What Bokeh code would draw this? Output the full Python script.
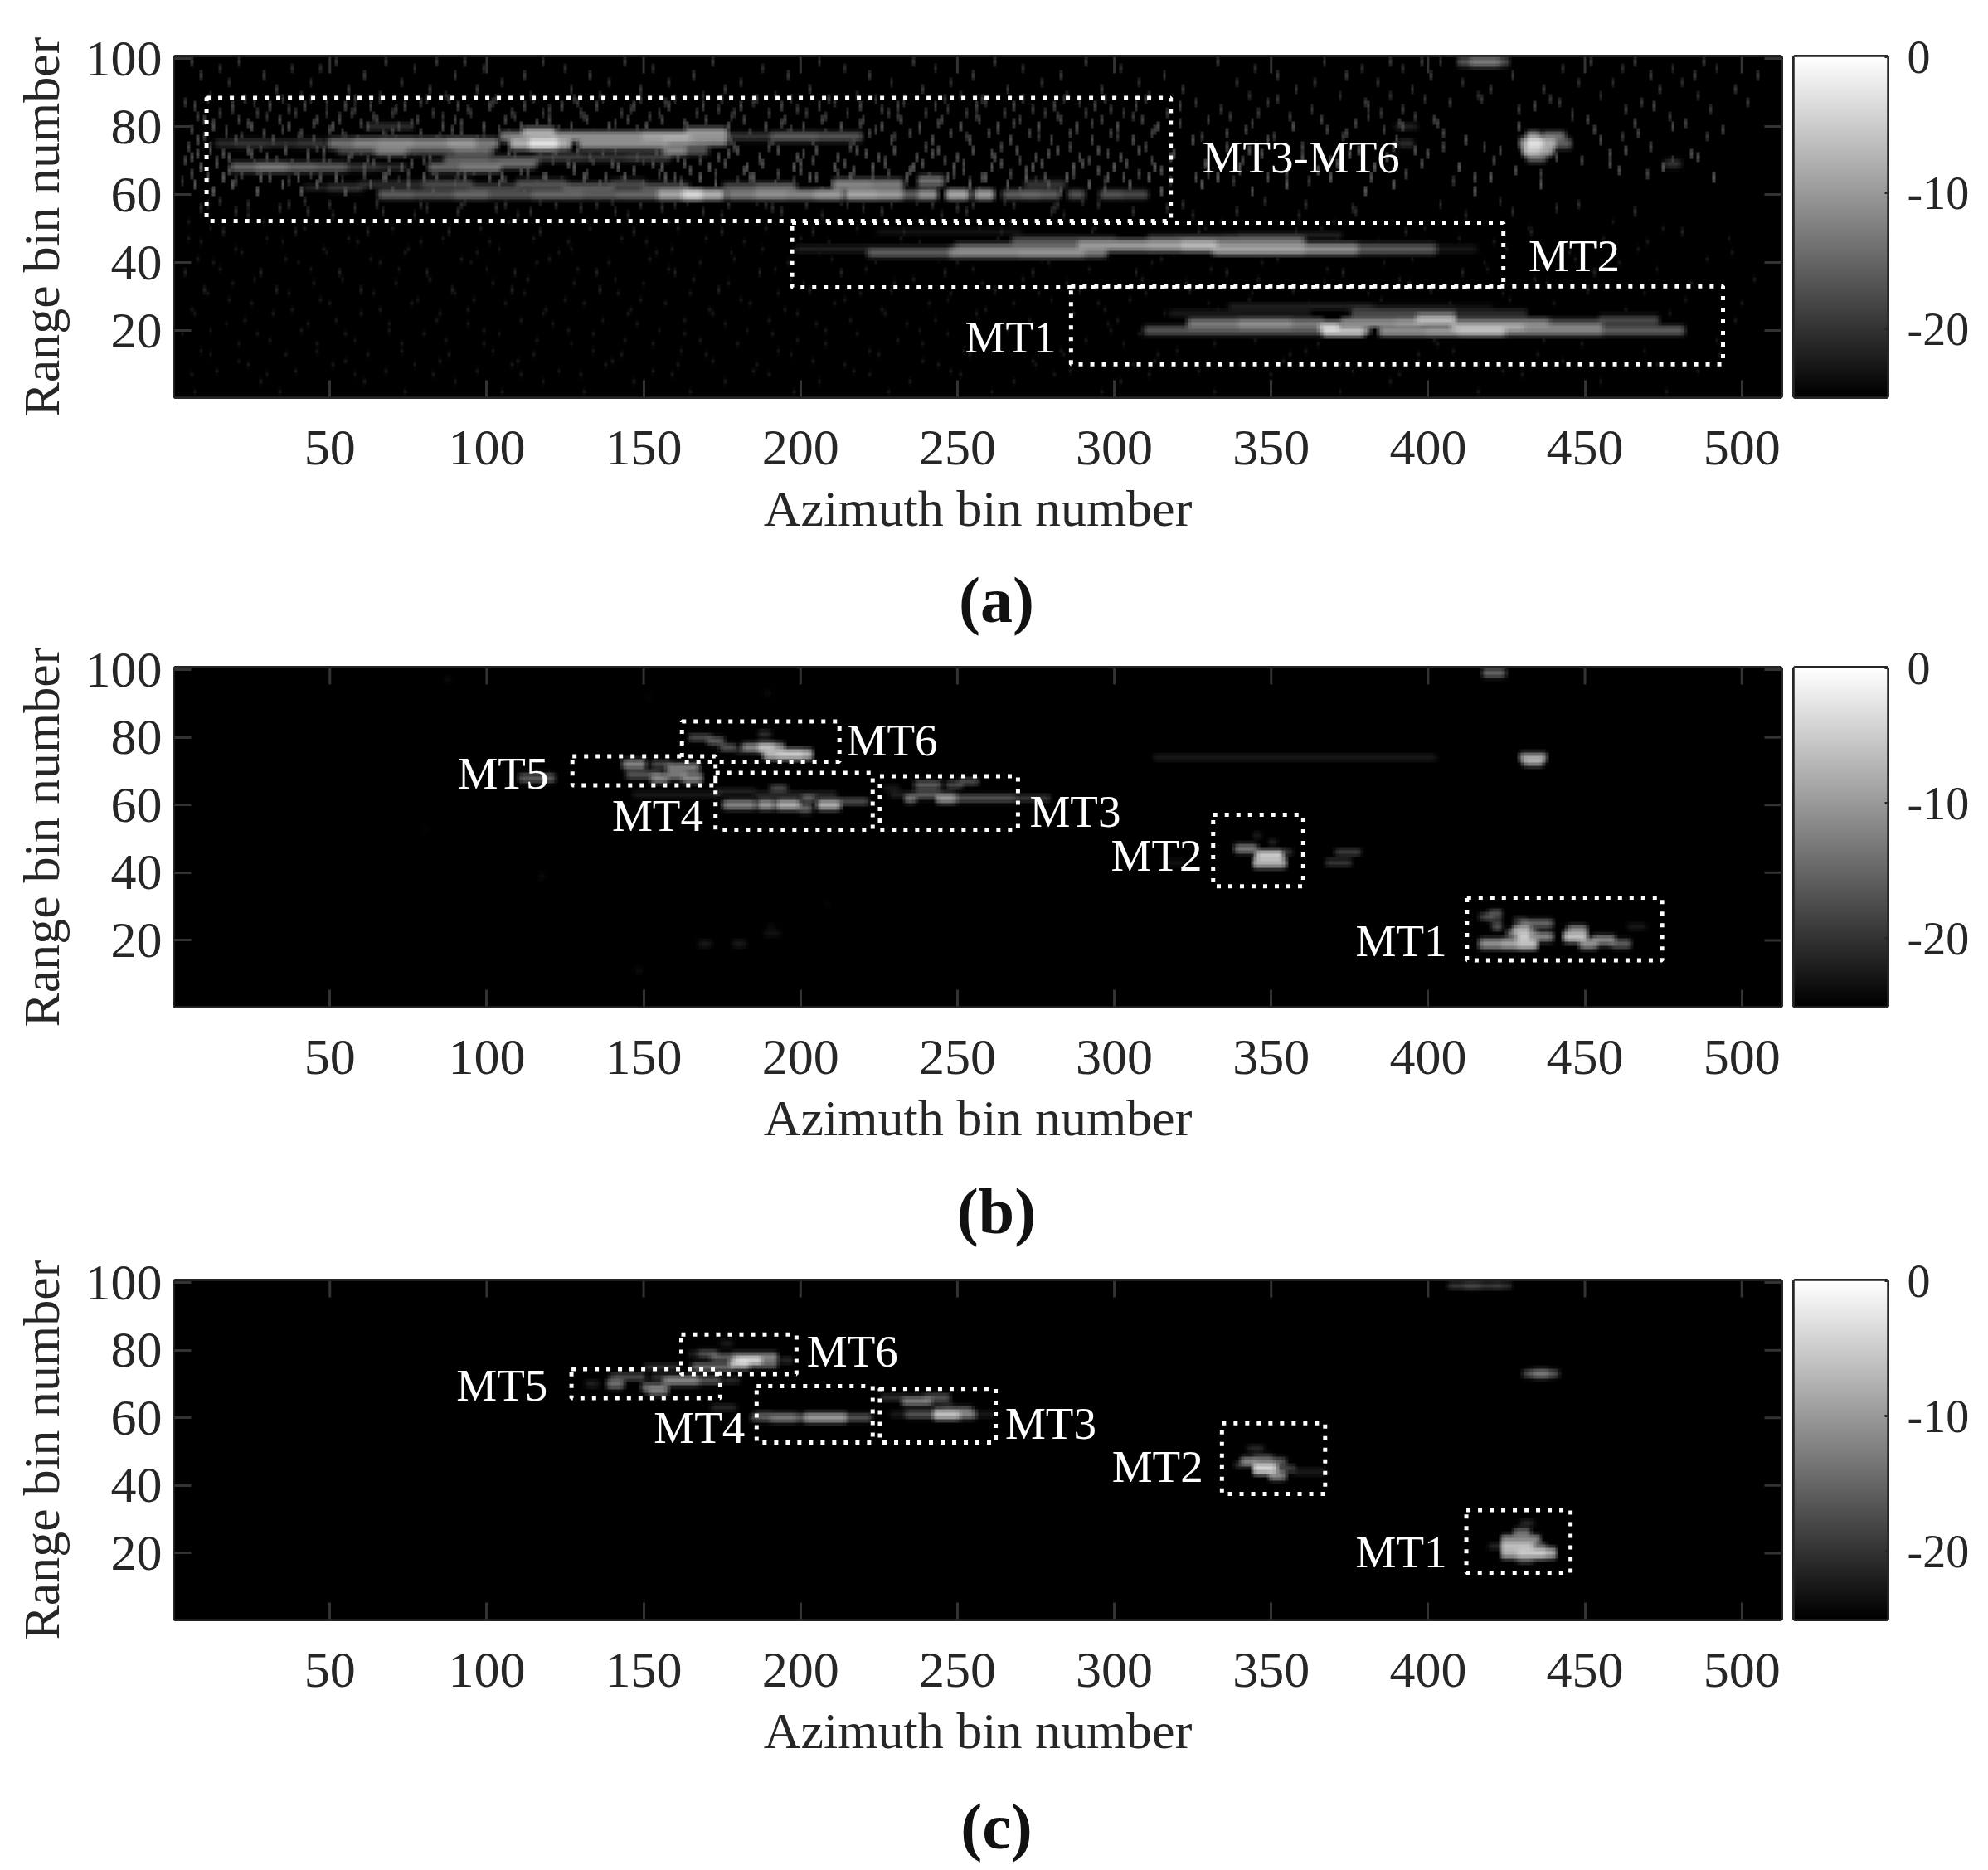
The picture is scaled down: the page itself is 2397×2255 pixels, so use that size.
import numpy as np
from bokeh.embed import file_html
from bokeh.resources import INLINE
from bokeh.layouts import column, row
from bokeh.models import ColumnDataSource, FixedTicker, LinearColorMapper, Range1d
from bokeh.palettes import gray
from bokeh.plotting import figure
from bokeh.core.properties import value

# ---- axes ----
x_ticks = [50, 100, 150, 200, 250, 300, 350, 400, 450, 500]
y_ticks = [20, 40, 60, 80, 100]
cb_ticks = [-20, -10, 0]
cb_tick_text = {-20: "-20", -10: "-10", 0: "0"}
x_title = "Azimuth bin number"
y_title = "Range bin number"
captions = ["(a)", "(b)", "(c)"]
db_floor, db_top = -25, 0

# ---- panel (a): streaks (az from, az to, range bin, dB) ----
a_mt36 = [
    (14,20,75,-19),(20,30,75,-18),(30,40,75,-19),(40,48,75,-18),(50,58,75,-12),(58,66,75,-10),(66,76,75,-9),
    (76,88,75,-10),(88,96,75,-8),(96,103,75,-11),(108,114,75,-6),(114,122,75,-1),(122,126,75,-6),(130,145,75,-9),
    (145,157,75,-9),(157,166,76,-8),(166,176,76,-9),
    (105,112,77,-11),(112,121,78,-6),(121,135,77,-9),(135,150,77,-9),(150,164,77,-7),(164,176,78,-8),
    (176,191,77,-18),(191,205,77,-14),(205,219,77,-15),
    (53,64,73,-17),(65,74,73,-11),(74,90,73,-16),(90,101,73,-13),(157,163,73,-10),(163,170,73,-15),
    (19,27,68,-13),(27,36,68,-11),(36,45,68,-13),(45,55,68,-14),(55,65,68,-18),(65,74,68,-19),
    (82,92,68,-13),(92,104,68,-11),(104,115,69,-13),(87,100,70,-14),(100,116,70,-15),(116,130,71,-17),
    (130,145,71,-18),(145,158,71,-17),(62,76,80,-19),
    (66,76,60,-14),(76,90,60,-15),(90,100,60,-13),(100,115,60,-15),(115,130,60,-13),(130,142,60,-14),
    (142,155,60,-13),(155,163,60,-7),(163,168,60,-2),(168,175,60,-6),(177,185,60,-11),(186,195,60,-9),
    (196,204,60,-10),(205,213,60,-8),(215,224,60,-7),(225,232,60,-8),(233,237,60,-14),(238,243,60,-9),
    (247,253,60,-7),(256,261,60,-8),(265,270,60,-14),(271,276,60,-13),(277,282,60,-14),(286,290,60,-15),
    (296,302,60,-15),(303,310,60,-16),
    (42,50,62,-20),(50,60,62,-18),(60,80,63,-19),(80,95,63,-16),(95,110,62,-17),(110,125,63,-15),
    (125,140,62,-14),(140,150,63,-16),(150,164,62,-15),(176,186,62,-15),(186,198,62,-13),(211,222,63,-10),
    (222,232,63,-11),(238,245,64,-12),(272,284,63,-18),
]
a_mt2 = [
    (199,222,44,-20),(222,248,43,-14),(248,270,43,-10),(270,290,43,-9),(290,297,43,-12),
    (250,289,44,-12),(289,311,45,-8),(311,322,45,-7),(322,332,45,-5),(332,360,44,-7),(360,377,44,-9),
    (377,402,44,-14),(402,415,44,-21),(268,300,46,-15),(320,360,46,-12),(311,334,47,-18),(335,360,47,-17),
    (225,270,49,-22),(340,372,48,-20),
]
a_mt1 = [
    (310,324,20,-21),(310,340,20,-15),(340,366,20,-15),(324,340,22,-11),(340,356,22,-9),(356,366,22,-11),
    (367,379,20,-3),(366,381,21,-4),(385,400,20,-8),(400,410,20,-7),(410,424,20,-5),(424,440,20,-11),
    (440,455,20,-11),(455,468,20,-14),(468,481,20,-14),(373,390,22,-8),(390,397,22,-7),(397,408,23,-5),
    (408,424,22,-10),(424,438,22,-10),(438,455,22,-15),(455,473,23,-16),(407,430,21,-7),(430,455,21,-12),
    (376,408,25,-16),(408,431,25,-19),(318,362,25,-21),(337,382,27,-20),(382,420,27,-23),
]
a_others = [
    (410,414,99,-15),(414,422,99,-11),(422,425,99,-15),
    (430,432,75,-8),(432,436,75,-1),(436,440,75,-6),(440,445,75,-14),(431,435,73,-4),(435,439,73,-7),
    (432,435,77,-9),(437,443,77,-12),(432,437,71,-13),(391,395,75,-19),(390,396,80,-20),(476,480,69,-18),
]
a_carve = [(385,407,21),(372,384,21)]

# ---- panel (a): faint speckle, one row of azimuth positions per range bin ----
a_noise_rg = [99, 97, 95, 93, 91, 89, 87, 85, 83, 81, 79, 77, 74, 72, 70, 67, 66, 65, 64, 58, 56, 54,
              50, 47, 44, 41, 38, 35, 32, 29, 26, 23, 20, 17, 14, 11, 8, 5, 2,
              88, 86, 84, 82, 80, 78, 76, 73, 71, 69, 68, 65, 63, 61, 57, 55,
              52, 49, 46, 43, 40, 37, 34, 31, 28, 25, 22, 19, 16, 13, 10, 7, 4]
a_noise_db = [-20, -21, -20, -21, -20, -21, -20, -20, -20, -19, -19, -20, -19, -18, -19, -18, -19, -18, -20, -21, -21, -22,
              -23, -23, -23, -23, -23, -23, -22, -23, -23, -23, -23, -23, -23, -23, -23, -23, -23,
              -20, -19, -20, -19, -18, -19, -18, -18, -18, -18, -17, -17, -17, -17, -21, -21,
              -23, -22, -23, -23, -23, -22, -23, -23, -23, -23, -23, -23, -23, -23, -23, -23, -23]
a_noise_az = [
    [6,21,52,68,84,93,118,144,172,206,236,262,291,333,367,388,398,404,452,466,488],
    [15,38,47,77,99,125,153,188,214,243,271,302,345,379,392,443,462,478,492],
    [9,29,61,90,112,133,166,196,222,255,283,316,352,374,401,427,471,485,505],
    [18,44,73,105,139,158,181,229,248,277,308,339,364,384,411,448,459,481],
    [33,56,82,97,127,149,176,203,239,266,296,322,358,395,420,437,474,498],
    [12,41,66,87,114,136,169,192,218,251,285,311,343,372,388,416,455,486],
    [4,26,49,79,102,129,157,185,211,233,259,289,326,349,380,407,442,468,502],
    [19,37,58,71,94,120,146,174,199,226,247,274,299,334,363,392,429,463,490],
    [8,30,53,64,86,109,131,152,178,208,231,256,282,306,337,356,381,396,446,477],
    [13,24,45,60,76,92,116,141,163,194,219,244,268,293,321,344,377,391,403,466,482],
    [6,17,35,50,70,89,104,123,148,171,197,224,238,263,288,313,342,368,386,453,494],
    [10,22,40,55,68,85,99,119,142,183,209,230,253,276,301,328,351,373,462,489],
    [5,12,28,36,46,59,78,95,126,151,179,190,216,240,264,286,310,336,360,389,405,418,471],
    [8,16,25,43,57,74,88,107,122,137,154,177,201,221,242,261,279,298,319,347,375,400,458,484],
    [4,14,33,48,62,80,98,121,134,150,168,187,204,227,246,270,292,312,341,369,421,449,478],
    [18,27,39,52,69,83,96,111,128,147,165,182,200,217,235,252,272,295,315,340,365,428,461],
    [6,22,44,61,75,91,113,132,155,173,193,212,228,249,267,287,308,330,355,393,436,470],
    [11,31,47,67,84,101,118,138,160,184,205,223,241,258,278,303,326,349,382,415],
    [3,20,37,54,72,90,106,124,143,162,180,198,215,234,254,275,297,318,338,362,408],
    [15,42,65,93,117,140,164,186,213,237,265,290,348,423],
    [9,34,58,81,103,130,156,191,220,250,281,317,376,441],
    [24,51,77,110,145,175,207,245,284,325,359,412],
    [12,42,70,98,133,161,189,218,257,294,329,366,399,432,475],
    [5,30,56,86,115,143,170,200,232,263,300,335,371,410,456,496],
    [20,48,75,104,127,159,188,225,269,304,337,383,425,467],
    [8,36,63,92,120,152,179,210,244,277,315,352,395,447,489],
    [15,44,72,100,129,158,192,221,255,292,331,368,419,473],
    [26,54,82,113,141,166,197,236,271,309,346,391,434,504],
    [10,33,60,89,108,136,174,203,229,262,289,324,357,401,451],
    [18,47,78,96,125,149,181,214,247,280,305,343,385,426,482],
    [6,38,66,94,119,146,171,195,226,259,297,333,374,413,463],
    [23,52,84,111,137,163,190,216,243,273,301,339,378,444,498],
    [12,41,69,99,126,155,183,208,238,266,299,464,480],
    [31,58,87,116,144,168,199,231,260,291,345,402,437,492],
    [9,46,73,102,134,162,193,222,252,283,320,361,408,469],
    [21,55,85,110,140,172,204,239,274,313,354,397,443],
    [14,39,68,97,123,153,185,217,248,286,327,376,424,486],
    [28,61,90,118,147,176,206,235,268,302,350,388,455],
    [7,34,74,105,131,165,198,228,261,296,332,372,416,476],
    [11,23,35,44,58,66,81,88,103,115,128,137,149,160,175,186,197,209,224,233,246,258,271,284,297,310,352,399,417,439],
    [7,19,31,42,55,63,74,91,101,112,124,135,147,158,169,181,194,206,219,231,243,256,268,281,294,307,321,381,434,472],
    [15,27,39,49,57,70,83,95,108,118,130,143,155,167,179,190,202,215,228,240,253,265,278,291,303,317,346,385,446],
    [10,21,34,46,53,65,78,90,106,120,132,145,156,170,182,195,207,220,232,245,257,270,283,296,309,330,366,402,451],
    [13,25,37,51,62,72,86,99,111,127,139,151,164,177,189,201,213,226,238,251,263,276,288,301,314,357,392,429,478],
    [17,29,41,54,67,79,92,107,122,134,146,159,172,184,196,208,222,235,248,260,273,286,299,312,336,374,405,467],
    [8,20,32,45,59,71,84,97,110,125,138,152,165,178,191,204,217,229,242,254,267,280,293,306,325,349,390,412,455],
    [12,24,36,48,60,77,89,102,117,129,141,154,166,180,193,205,218,230,244,255,269,282,295,308,343,378,396,423,463],
    [6,18,30,43,56,69,82,94,109,121,133,148,161,174,187,199,212,225,237,250,262,275,289,302,318,360,387,441,486],
    [14,26,38,50,64,76,87,100,114,126,140,153,163,176,188,200,214,227,239,252,264,277,290,304,329,371,398,458],
    [9,22,33,47,61,73,85,98,113,128,142,156,171,183,198,211,223,236,249,261,274,287,300,313,340,383,410,475],
    [16,28,40,52,68,80,93,105,119,131,144,157,168,185,203,216,234,247,259,272,285,298,311,333,369,420,491],
    [7,19,35,46,63,75,90,104,116,136,150,162,173,192,210,221,241,254,266,279,292,305,328,355,389,436],
    [13,27,41,55,70,83,96,112,124,139,155,167,181,195,207,219,232,243,257,270,283,297,315,344,380,415],
    [11,24,37,50,65,79,92,106,122,135,149,160,177,189,202,215,229,242,255,268,282,295,322,361,404,448],
    [20,43,67,91,114,141,169,194,226,253,280,306,339,377,427,466],
    [5,29,57,83,107,132,158,186,212,240,267,298,334,370,409,459],
    [16,39,62,88,117,147,175,204,233,264,293,327,358,393,433,481],
    [9,35,59,79,101,126,151,182,209,238,272,302,341,384,421,470],
    [22,49,74,97,123,154,178,206,235,259,288,319,354,400,445,497],
    [13,40,66,95,116,139,168,196,224,250,279,312,347,386,418,461],
    [4,28,53,81,109,135,160,187,213,246,274,307,336,373,411,453],
    [19,45,71,102,128,150,177,201,230,258,285,323,367,394,438,484],
    [11,37,64,90,112,142,165,193,219,248,276,310,344,381,424,469],
    [25,50,76,106,131,157,184,211,241,268,295,330,362,407,440,500],
    [7,32,60,85,118,145,172,199,227,256,287,316,351,388,431,477],
    [17,43,69,94,121,148,176,205,234,265,298,338,375,414,457],
    [3,27,55,80,104,134,163,191,218,247,278,308,342,379,422,462],
    [21,46,73,99,127,153,180,208,239,270,303,332,365,403,449],
    [12,36,62,88,115,143,170,197,225,254,284,314,356,397,435,493],
    [24,51,77,108,138,161,186,214,244,275,306,340,372,416,473],
    [6,30,58,83,111,130,159,190,222,251,281,311,350,391,430],
]

# ---- panel (b): streaks ----
b_mt6 = [(165,171,80,-15),(171,175,79,-13),(175,179,77,-14),(182,187,77,-9),(187,191,77,-3),(191,194,77,-8),
         (189,203,75,-4),(193,200,75,-2),(187,190,81,-18),(180,183,76,-19)]
b_mt5 = [(144,150,72,-9),(153,158,72,-15),(158,167,71,-10),(145,155,69,-14),(153,157,68,-9),(158,163,69,-10),
         (163,168,68,-9),(111,121,68,-13),(147,174,63,-21),(173,185,64,-20),(186,211,63,-19)]
b_mt4 = [(176,185,60,-9),(187,191,60,-7),(193,199,60,-5),(200,203,59,-12),(201,204,62,-13),(206,212,60,-5),
         (211,221,61,-15),(191,195,65,-15)]
b_mt3 = [(227,231,65,-21),(237,244,66,-13),(247,251,66,-15),(251,256,67,-15),(229,235,63,-20),(234,236,62,-10),
         (237,244,63,-13),(244,249,62,-7),(249,268,62,-14),(268,279,62,-17)]
b_mt2 = [(346,353,45,-2),(339,345,47,-10),(345,354,43,-5),(345,346,51,-20),(350,351,49,-19),(352,356,46,-17),
         (371,378,46,-16),(368,375,43,-17),(316,322,43,-22)]
b_mt1 = [(420,423,28,-14),(417,420,27,-15),(420,423,26,-18),(428,431,26,-17),(430,434,25,-12),(435,439,25,-12),
         (421,423,24,-14),(426,434,22,-10),(428,432,23,-5),(429,432,21,-2),(417,423,19,-8),(424,429,19,-6),
         (429,434,19,-3),(434,439,21,-9),(445,450,23,-9),(444,450,21,-3),(449,453,19,-8),(453,459,20,-9),
         (459,464,19,-13),(464,469,24,-21)]
b_others = [(313,402,74,-21),(430,437,74,-8),(431,436,73,-6),(418,424,99,-12),(168,171,19,-21),(179,182,19,-21),
            (189,193,22,-22),(190,191,24,-23),(148,149,11,-23),(208,209,31,-24),(87,88,97,-23),(189,190,93,-23),
            (151,152,92,-24),(117,118,39,-23),(80,81,53,-24)]

# ---- panel (c): streaks ----
c_mt6 = [(168,173,79,-14),(172,179,78,-13),(179,192,78,-9),(180,187,77,-2),(178,183,76,-4),(183,192,76,-12),
         (166,178,75,-12),(151,161,75,-18),(194,197,77,-19),(175,178,82,-21),(165,167,79,-20)]
c_mt5 = [(140,150,72,-15),(157,167,71,-9),(168,174,71,-14),(153,157,72,-18),(176,180,71,-19),(132,135,70,-20),
         (139,143,70,-11),(150,157,69,-12),(152,157,68,-11),(172,179,63,-19)]
c_mt4 = [(185,191,60,-14),(191,198,60,-10),(198,202,60,-13),(202,214,60,-7),(214,222,60,-14),(186,190,61,-17)]
c_mt3 = [(226,232,66,-18),(233,241,65,-10),(240,247,66,-14),(236,248,64,-20),(229,234,61,-21),(234,243,61,-14),
         (243,250,61,-3),(250,255,61,-10),(246,254,62,-12),(255,262,61,-21)]
c_mt2 = [(345,351,45,-1),(341,345,47,-9),(345,350,48,-14),(350,354,43,-9),(352,357,45,-16),(343,347,51,-19),
         (339,344,46,-17),(345,354,47,-13),(357,367,44,-21)]
c_mt1 = [(428,432,26,-11),(424,435,24,-9),(424,433,22,-3),(433,437,22,-14),(424,440,20,-5),(429,437,20,-2),
         (429,433,18,-16),(430,433,29,-19),(420,424,22,-19)]
c_others = [(407,411,99,-17),(412,416,99,-15),(417,420,99,-17),(421,423,99,-16),(424,426,99,-18),
            (431,434,73,-14),(434,438,73,-10),(438,441,73,-14)]

# ---- dotted boxes: left, right, bottom, top ----
a_boxes = [(10.7,318,52.2,88.4),(197.3,424,32.7,51.7),(286.2,494,10.1,33)]
b_boxes = [(162.2,212.4,72.8,84.7),(127.3,172.9,65.8,74.4),(172.9,223,52.7,69.5),(225.3,269.3,52.7,68.5),
           (331.5,360.2,36,57.1),(412.4,474.6,14.1,32.6)]
c_boxes = [(162,198.7,72.9,84.6),(127,174.4,65.8,74.4),(186,223,52.7,69.4),(225.3,262.2,52.7,68.6),
           (334.3,367.2,37.5,58.4),(412.2,445.4,14.2,32.7)]

# ---- labels: text, az, range, align ----
a_labels = [("MT3-MT6",328,71,"left"),("MT2",432,42,"left"),("MT1",281.5,18,"right")]
b_labels = [("MT6",214.6,79.2,"left"),("MT5",119.7,69.4,"right"),("MT4",169,56.9,"right"),("MT3",273,58.2,"left"),
            ("MT2",328,45,"right"),("MT1",406,19.9,"right")]
c_labels = [("MT6",202,79.6,"left"),("MT5",119.4,69.5,"right"),("MT4",182.3,57,"right"),("MT3",265.2,58.3,"left"),
            ("MT2",328.3,45.6,"right"),("MT1",406,20.4,"right")]

FONT = "Liberation Serif"
INK = "#262626"
x_low, x_high, y_low, y_high = 0.5, 512.5, 0.5, 100.5
AZ_KERNEL = np.array([0.25, 0.5, 0.25])
FLOOR_AMP = 10.0 ** (db_floor / 20.0)


def paint(m, seg, halo):
    for az0, az1, rg, db in seg:
        i0, i1 = int(round(az0)) - 1, int(round(az1)) - 1
        r = int(round(rg)) - 1
        m[r, i0:i1 + 1] = np.maximum(m[r, i0:i1 + 1], db)
        for rr in (r - 1, r + 1):
            if 0 <= rr < 100:
                m[rr, i0:i1 + 1] = np.maximum(m[rr, i0:i1 + 1], db - halo)


def soften(m):
    # the reference is a resampled picture: soften edges on amplitude above the floor
    amp = 10.0 ** (m / 20.0) - FLOOR_AMP
    amp = np.apply_along_axis(lambda v: np.convolve(v, AZ_KERNEL, mode="same"), 1, amp)
    amp = np.apply_along_axis(lambda v: np.convolve(v, AZ_KERNEL, mode="same"), 0, amp)
    return np.clip(20.0 * np.log10(amp + FLOOR_AMP), db_floor, db_top)


def panel(groups, halo, noise=None, carve=()):
    m = np.full((100, 512), float(db_floor))
    for g in groups:
        paint(m, g, halo)
    for az0, az1, rg in carve:
        m[rg - 1, az0 - 1:az1] = db_floor
    m = soften(m)
    if noise:
        for rg, db, azs in zip(*noise):
            for az in azs:
                for k, drop in ((-1, 1.5), (0, 0), (1, 1.5)):
                    r = rg - 1 + k
                    if 0 <= r < 100:
                        m[r, az - 1] = max(m[r, az - 1], db - drop)
    return m


def main_fig(matrix, boxes, labels, height, top, bottom):
    p = figure(width=2155, height=height, output_backend="svg", toolbar_location=None,
               x_range=Range1d(x_low, x_high), y_range=Range1d(y_low, y_high),
               min_border_left=210, min_border_right=8, min_border_top=top, min_border_bottom=bottom)
    mapper = LinearColorMapper(palette=gray(256), low=db_floor, high=db_top)
    p.image(image=[matrix], x=x_low, y=y_low, dw=x_high - x_low, dh=y_high - y_low, color_mapper=mapper)
    p.grid.visible = False
    p.outline_line_color = INK
    p.outline_line_width = 5
    # mirrored ticks on the upper and right edges of the box
    p.segment(x_ticks, y_high, x_ticks, y_high - 4.9, line_color="#333333", line_width=3)
    p.segment(x_high, y_ticks, x_high - 5.3, y_ticks, line_color="#333333", line_width=3)
    for ax, ticks, title in ((p.xaxis, x_ticks, x_title), (p.yaxis, y_ticks, y_title)):
        ax.ticker = FixedTicker(ticks=ticks)
        ax.axis_line_color = None
        ax.major_tick_in = 20
        ax.major_tick_out = 0
        ax.major_tick_line_color = "#333333"
        ax.major_tick_line_width = 3
        ax.minor_tick_line_color = None
        ax.major_label_text_font = FONT
        ax.major_label_text_font_size = "62px"
        ax.major_label_text_color = INK
        ax.axis_label = title
        ax.axis_label_text_font = FONT
        ax.axis_label_text_font_size = "62px"
        ax.axis_label_text_font_style = "normal"
        ax.axis_label_text_color = INK
    p.xaxis.major_label_standoff = 41
    p.xaxis.axis_label_standoff = 16
    p.yaxis.major_label_standoff = 15
    p.yaxis.axis_label_standoff = 16
    p.yaxis.major_label_orientation = "horizontal"
    src = ColumnDataSource(dict(left=[b[0] for b in boxes], right=[b[1] for b in boxes],
                                bottom=[b[2] for b in boxes], top=[b[3] for b in boxes]))
    p.quad(left="left", right="right", bottom="bottom", top="top", source=src, fill_color=None,
           line_color="white", line_width=5, line_dash="5 9")
    txt = ColumnDataSource(dict(t=[l[0] for l in labels], x=[l[1] for l in labels], y=[l[2] for l in labels],
                                a=[l[3] for l in labels]))
    p.text(x="x", y="y", text="t", source=txt, text_align="a", text_baseline="middle",
           text_color="white", text_font=value(FONT), text_font_size="55px")
    return p


def colorbar_fig(height, top, bottom):
    c = figure(width=234, height=height, output_backend="svg", toolbar_location=None,
               x_range=Range1d(0, 1), y_range=Range1d(db_floor, db_top), x_axis_location=None,
               y_axis_location="right", min_border_left=8, min_border_right=114,
               min_border_top=top, min_border_bottom=bottom)
    grad = np.linspace(db_floor, db_top, 256).reshape(-1, 1)
    mapper = LinearColorMapper(palette=gray(256), low=db_floor, high=db_top)
    c.image(image=[grad], x=0, y=db_floor, dw=1, dh=db_top - db_floor, color_mapper=mapper)
    c.grid.visible = False
    c.outline_line_color = INK
    c.outline_line_width = 5
    ax = c.yaxis
    ax.ticker = FixedTicker(ticks=cb_ticks)
    ax.major_label_overrides = cb_tick_text
    ax.axis_line_color = None
    ax.major_tick_in = 3
    ax.major_tick_out = 0
    ax.major_tick_line_color = INK
    ax.major_tick_line_width = 3
    ax.minor_tick_line_color = None
    ax.major_label_text_font = FONT
    ax.major_label_text_font_size = "56px"
    ax.major_label_text_color = INK
    ax.major_label_standoff = 24
    return c


def caption_fig(text, height, centre):
    f = figure(width=2389, height=height, output_backend="svg", toolbar_location=None,
               x_range=Range1d(0, 2389), y_range=Range1d(height, 0),
               x_axis_location=None, y_axis_location=None, min_border=0)
    f.grid.visible = False
    f.outline_line_color = None
    f.text(x=[1201], y=[centre], text=[text], text_align="center", text_baseline="middle",
           text_font=value(FONT), text_font_size="78px", text_font_style="bold", text_color="#111111")
    return f


a_m = panel([a_mt36, a_mt2, a_mt1, a_others], 5, (a_noise_rg, a_noise_db, a_noise_az), a_carve)
b_m = panel([b_mt6, b_mt5, b_mt4, b_mt3, b_mt2, b_mt1, b_others], 9)
c_m = panel([c_mt6, c_mt5, c_mt4, c_mt3, c_mt2, c_mt1, c_others], 9)

r1 = row(main_fig(a_m, a_boxes, a_labels, 670, 68, 187), colorbar_fig(670, 68, 192), spacing=0)
r2 = row(main_fig(b_m, b_boxes, b_labels, 627, 37, 180), colorbar_fig(627, 37, 182), spacing=0)
r3 = row(main_fig(c_m, c_boxes, c_labels, 623, 37, 176), colorbar_fig(623, 36, 178), spacing=0)
page = column(r1, caption_fig(captions[0], 98, 53),
              r2, caption_fig(captions[1], 112, 65),
              r3, caption_fig(captions[2], 117, 72), spacing=0)

open("out.html", "w").write(file_html(page, INLINE))
